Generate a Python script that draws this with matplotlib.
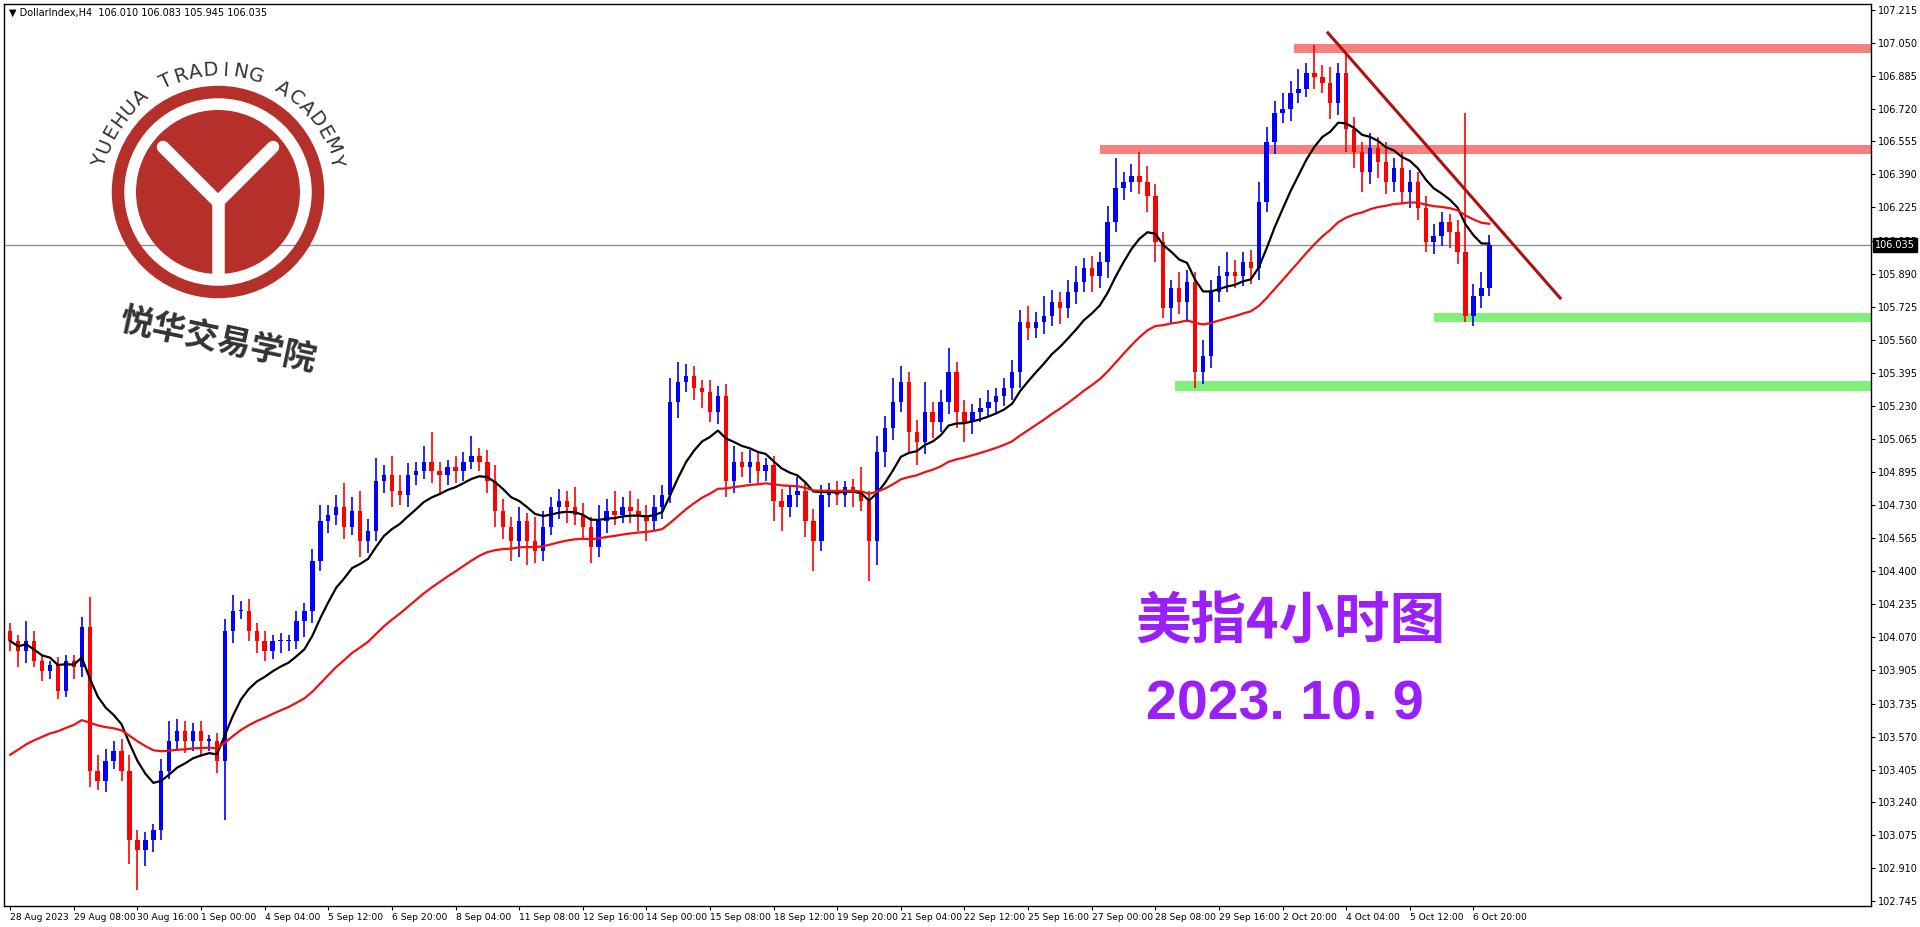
import matplotlib
matplotlib.use("Agg")
import matplotlib.pyplot as plt
import numpy as np
import pandas as pd
from matplotlib.patches import Circle, Rectangle

plt.rcParams['font.family'] = ['Noto Sans CJK SC', 'DejaVu Sans']

closes = [104.05,104.00,104.05,103.95,103.90,103.93,103.80,103.95,103.92,104.12,
          103.40,103.35,103.45,103.50,103.40,103.05,103.00,103.05,103.10,103.40,
          103.55,103.60,103.55,103.60,103.55,103.55,103.45,104.10,104.20,104.20,
          104.10,104.05,104.00,104.05,104.05,104.05,104.15,104.20,104.45,104.65,
          104.68,104.72,104.62,104.70,104.55,104.60,104.85,104.88,104.80,104.78,
          104.88,104.90,104.95,104.90,104.88,104.92,104.90,104.95,104.98,104.95,
          104.85,104.70,104.62,104.55,104.65,104.55,104.50,104.62,104.72,104.75,
          104.72,104.68,104.62,104.52,104.65,104.70,104.68,104.72,104.70,104.68,
          104.65,104.72,104.78,105.25,105.35,105.38,105.32,105.30,105.20,105.28,
          104.85,104.95,104.92,104.95,104.90,104.93,104.75,104.72,104.78,104.80,
          104.65,104.55,104.78,104.80,104.78,104.82,104.80,104.75,104.55,105.00,
          105.12,105.25,105.35,105.10,105.05,105.20,105.15,105.25,105.40,105.20,
          105.15,105.20,105.22,105.25,105.28,105.32,105.40,105.65,105.62,105.65,
          105.68,105.75,105.72,105.80,105.85,105.92,105.88,105.95,106.15,106.32,
          106.35,106.38,106.35,106.28,106.05,105.72,105.82,105.75,105.85,105.40,
          105.48,105.80,105.88,105.90,105.88,105.95,105.92,106.25,106.55,106.70,
          106.72,106.80,106.82,106.90,106.88,106.85,106.75,106.90,106.62,106.50,
          106.40,106.52,106.45,106.35,106.42,106.30,106.35,106.22,106.05,106.08,
          106.15,106.10,106.00,105.68,105.78,105.82,106.035]
first_open = 104.10
slow_ma_seed = 103.45

upper_wick = [4,3,10,5,3,2,4,3,3,5,
              15,8,6,5,6,8,5,4,3,6,
              10,6,5,4,5,3,4,6,8,5,
              6,4,5,3,4,3,5,4,6,8,
              5,6,12,7,10,6,12,5,10,8,
              6,5,8,15,5,4,6,5,10,4,
              6,8,6,5,7,4,12,8,5,6,
              5,10,6,5,8,6,10,5,8,6,
              5,6,5,12,10,6,5,4,6,5,
              6,8,5,6,5,4,5,6,5,7,
              4,6,5,4,5,3,4,12,5,8,
              6,12,8,5,6,15,5,6,12,5,
              6,4,5,6,4,5,6,6,8,5,
              10,6,5,6,8,5,6,5,8,15,
              5,6,12,8,6,5,4,8,6,5,
              8,6,5,10,6,5,6,10,8,6,
              8,6,10,5,14,6,8,5,10,6,
              5,8,6,10,5,8,6,5,6,6,
              5,4,6,70,6,8,5]
lower_wick = [5,8,6,3,5,4,4,3,6,5,
              8,5,6,4,5,12,20,8,6,5,
              4,5,6,5,8,5,6,30,6,4,
              5,6,5,4,6,5,4,8,6,5,
              6,5,6,4,8,6,5,6,8,5,
              6,5,4,6,10,5,6,5,4,5,
              6,8,6,10,8,12,6,5,4,6,
              8,5,6,8,5,6,5,4,6,8,
              10,5,6,4,8,5,6,8,5,6,
              8,6,5,8,6,5,10,12,5,6,
              8,15,5,6,5,6,8,5,20,12,
              8,6,5,10,12,6,8,5,6,8,
              10,6,5,4,6,5,6,8,6,5,
              6,5,8,5,6,5,8,6,8,5,
              6,5,6,8,10,5,8,6,10,8,
              6,6,5,8,6,5,8,6,5,6,
              5,6,5,4,6,5,8,6,12,8,
              10,6,8,6,5,6,8,6,5,6,
              5,8,6,3,5,6,4]

date_labels = ['28 Aug 2023','29 Aug 08:00','30 Aug 16:00','1 Sep 00:00','4 Sep 04:00',
               '5 Sep 12:00','6 Sep 20:00','8 Sep 04:00','11 Sep 08:00','12 Sep 16:00',
               '14 Sep 00:00','15 Sep 08:00','18 Sep 12:00','19 Sep 20:00','21 Sep 04:00',
               '22 Sep 12:00','25 Sep 16:00','27 Sep 00:00','28 Sep 08:00','29 Sep 16:00',
               '2 Oct 20:00','4 Oct 04:00','5 Oct 12:00','6 Oct 20:00']
price_ticks = [102.745,102.910,103.075,103.240,103.405,103.570,103.735,103.905,104.070,
               104.235,104.400,104.565,104.730,104.895,105.065,105.230,105.395,105.560,
               105.725,105.890,106.055,106.225,106.390,106.555,106.720,106.885,107.050,107.215]

trend_line = [(165.7, 107.10), (194.9, 105.77)]

n = len(closes)
c = np.array(closes)
o = np.concatenate([[first_open], c[:-1]])
h = np.maximum(o, c) + np.array(upper_wick[:n]) / 100
l = np.minimum(o, c) - np.array(lower_wick[:n]) / 100
x = np.arange(n)

fig = plt.figure(figsize=(19.2, 9.27), dpi=100)
ax = fig.add_axes([0.002, 0.0225, 0.9725, 0.9735])
ymin, ymax = 102.72, 107.246
ax.set_xlim(-0.8, 234)
ax.set_ylim(ymin, ymax)

ax.add_patch(Rectangle((161.5, 107.00), 234, 0.045, color='#f77f80', zorder=1, lw=0))
ax.add_patch(Rectangle((137, 106.49), 234, 0.045, color='#f77f80', zorder=1, lw=0))
ax.add_patch(Rectangle((179, 105.65), 234, 0.045, color='#7ff07a', zorder=1, lw=0))
ax.add_patch(Rectangle((146.5, 105.305), 234, 0.05, color='#7ff07a', zorder=1, lw=0))

ax.axhline(106.035, color='#8a9098', lw=1, zorder=1)

up = c >= o
for i in range(n):
    col = '#0000ff' if up[i] else '#ff0000'
    ax.vlines(x[i], l[i], h[i], color=col, lw=1.2, zorder=3)
    ax.bar(x[i], max(abs(c[i] - o[i]), 0.006), bottom=min(o[i], c[i]), width=0.55,
           color=col, lw=0, zorder=3)

s = pd.Series(c)
ax.plot(x, s.ewm(span=12).mean(), color='black', lw=1.6, zorder=4)
alpha = 2 / (40 + 1)
slow = []
prev = slow_ma_seed
for v in c:
    prev = prev + alpha * (v - prev)
    slow.append(prev)
ax.plot(x, slow, color='#ee1111', lw=1.6, zorder=4)

ax.plot([p[0] for p in trend_line], [p[1] for p in trend_line], color='#b01010', lw=2.2, zorder=5)

for sp in ax.spines.values():
    sp.set_color('black'); sp.set_linewidth(1)
ax.yaxis.tick_right()
ax.set_yticks(price_ticks)
ax.set_yticklabels([f'{v:.3f}' for v in price_ticks], fontsize=7, family='DejaVu Sans')
xt = np.arange(0, 8 * len(date_labels), 8)
ax.set_xticks(xt)
ax.set_xticklabels(date_labels, fontsize=6.6, ha='left', family='DejaVu Sans')
ax.tick_params(axis='both', length=3, pad=2)

ax.text(1.002, (106.035 - ymin) / (ymax - ymin), '106.035', transform=ax.transAxes,
        fontsize=7, color='white', va='center', ha='left',
        bbox=dict(boxstyle='square,pad=0.2', fc='black', ec='black'), family='DejaVu Sans')

ax.text(0.003, 0.995, '▼ DollarIndex,H4  106.010 106.083 105.945 106.035', transform=ax.transAxes,
        fontsize=7, va='top', ha='left', family='DejaVu Sans')

fig_ax = fig.add_axes([0, 0, 1, 1], facecolor='none')
fig_ax.set_xlim(0, 1920); fig_ax.set_ylim(927, 0); fig_ax.axis('off')
cx, cy = 218, 192
fig_ax.add_patch(Circle((cx, cy), 100, fc='none', ec='#b5302a', lw=9))
fig_ax.add_patch(Circle((cx, cy), 82, fc='#b5302a', ec='none'))
fig_ax.plot([cx - 55, cx - 15, cx], [cy - 45, cy - 5, cy + 10], color='white', lw=9, solid_capstyle='round')
fig_ax.plot([cx + 55, cx + 15, cx], [cy - 45, cy - 5, cy + 10], color='white', lw=9, solid_capstyle='round')
fig_ax.plot([cx, cx], [cy + 10, cy + 82], color='white', lw=9)
txt = 'YUEHUA TRADING ACADEMY'
angs = np.linspace(195, 345, len(txt))
for ch, a in zip(txt, angs):
    t = np.radians(a)
    fig_ax.text(cx + 122 * np.cos(t), cy + 122 * np.sin(t), ch, rotation=-(a + 90),
                ha='center', va='center', fontsize=14, color='#333333', rotation_mode='anchor',
                family='DejaVu Sans')
fig_ax.text(cx, cy + 148, '悦华交易学院', ha='center', va='center', fontsize=24, fontweight='bold',
            color='#333333', rotation=-12)

fig_ax.text(1290, 622, '美指4小时图', ha='center', va='center', fontsize=40, fontweight='bold',
            color='#9b1ffb')
fig_ax.text(1285, 706, '2023. 10. 9', ha='center', va='center', fontsize=40, fontweight='bold',
            color='#9b1ffb', family='Liberation Sans')

fig.savefig('out.png', dpi=100)
